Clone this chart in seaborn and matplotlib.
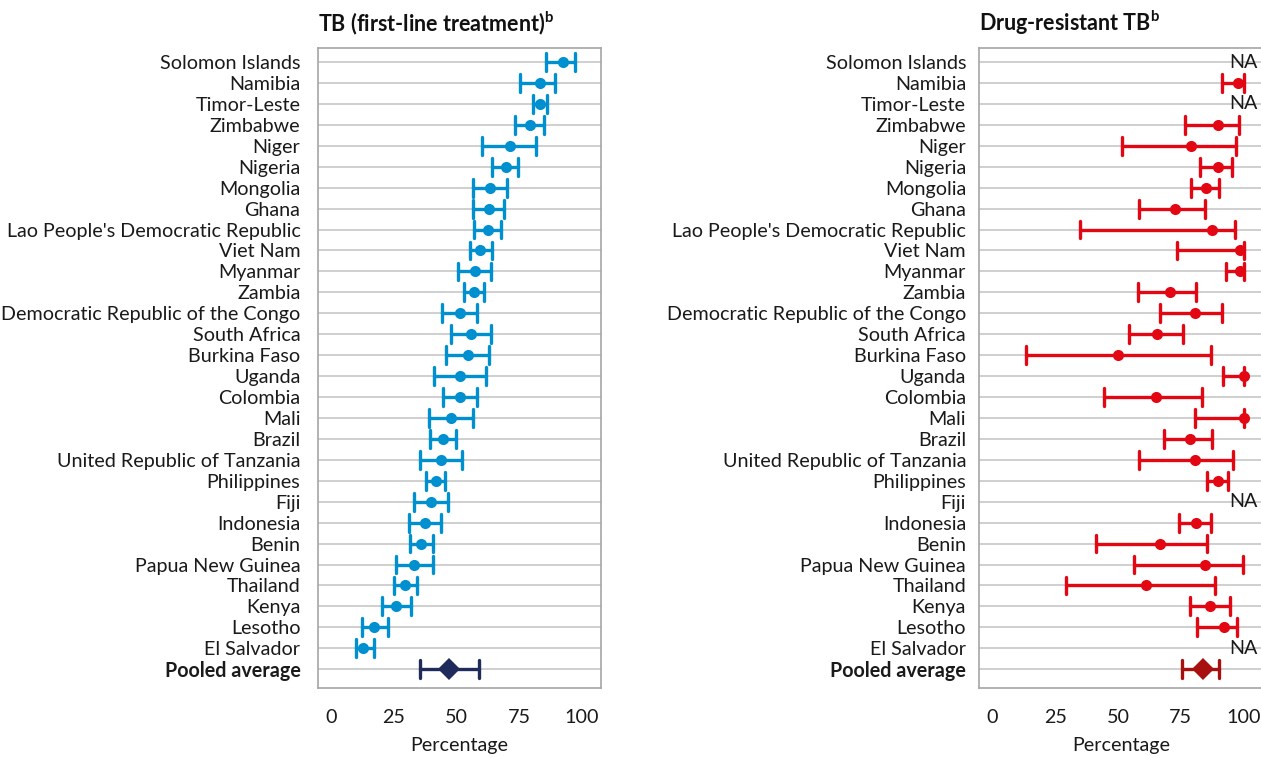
import numpy as np
import pandas as pd
import matplotlib
matplotlib.use("Agg")
import matplotlib.pyplot as plt
import seaborn as sns

# Countries, top to bottom
countries = ["Solomon Islands", "Namibia", "Timor-Leste", "Zimbabwe", "Niger", "Nigeria",
             "Mongolia", "Ghana", "Lao People's Democratic Republic", "Viet Nam", "Myanmar",
             "Zambia", "Democratic Republic of the Congo", "South Africa", "Burkina Faso",
             "Uganda", "Colombia", "Mali", "Brazil", "United Republic of Tanzania",
             "Philippines", "Fiji", "Indonesia", "Benin", "Papua New Guinea", "Thailand",
             "Kenya", "Lesotho", "El Salvador"]
pooled_label = "Pooled average"

# TB first-line treatment (%): estimate, lower, upper
fl_est = [92.3, 83.1, 83.1, 79.4, 71.3, 69.6, 63.4, 62.8, 62.4, 59.5, 57.3, 57.1, 51.5, 55.7,
          54.6, 51.6, 51.3, 48.0, 44.6, 43.9, 41.8, 39.7, 37.4, 35.8, 33.1, 29.5, 26.1, 17.3, 13.0]
fl_lo = [85.6, 75.5, 80.3, 73.4, 60.2, 64.2, 56.5, 56.5, 57.1, 55.3, 50.8, 53.2, 44.2, 47.8,
         46.0, 41.1, 44.7, 39.0, 39.4, 35.4, 37.8, 33.3, 31.0, 31.5, 26.1, 25.1, 20.4, 12.4, 10.1]
fl_hi = [97.2, 89.3, 86.0, 84.8, 81.6, 74.6, 70.2, 68.9, 67.6, 64.0, 63.9, 61.0, 58.3, 63.6,
         63.0, 61.7, 58.2, 56.6, 49.9, 52.2, 45.6, 46.8, 44.0, 40.7, 40.7, 34.4, 31.9, 22.9, 17.2]
fl_pooled = [47.2, 35.4, 58.9]

# Drug-resistant TB (%): None = NA
dr_est = [None, 97.7, None, 89.8, 79.2, 89.8, 85.2, 72.7, 87.4, 98.5, 98.5, 70.6, 80.5, 65.6,
          50.1, 100.0, 65.3, 100.0, 78.5, 80.5, 89.9, None, 80.9, 66.8, 84.6, 61.3, 86.6, 92.2, None]
dr_lo = [None, 91.4, None, 76.8, 51.7, 82.8, 79.0, 58.5, 34.9, 73.6, 93.1, 58.1, 66.8, 54.5,
         13.5, 91.9, 44.6, 80.8, 68.3, 58.5, 85.5, None, 74.3, 41.1, 56.4, 29.3, 78.6, 81.6, None]
dr_hi = [None, 100.0, None, 98.1, 97.1, 95.5, 90.4, 84.6, 96.6, 100.0, 100.0, 81.0, 91.4, 75.7,
         87.0, 100.0, 83.4, 100.0, 87.5, 95.8, 93.8, None, 87.0, 85.4, 99.7, 88.6, 94.6, 97.3, None]
dr_pooled = [83.7, 75.3, 90.4]

order = countries + [pooled_label]


def long_table(names, est, lo, hi):
    rows = []
    for n, e, l, h in zip(names, est, lo, hi):
        if e is None:
            continue
        for v in (l, e, h):
            rows.append({"country": n, "value": v})
    return pd.DataFrame(rows)


sns.set_style("white")
plt.rcParams["font.family"] = ["Lato", "DejaVu Sans"]
plt.rcParams["mathtext.fontset"] = "custom"
plt.rcParams["mathtext.bf"] = "Lato:bold"
plt.rcParams["mathtext.rm"] = "Lato"

fig = plt.figure(figsize=(12.61, 7.58), dpi=100)
ax1 = fig.add_axes([0.252, 0.0923, 0.2247, 0.8443])
ax2 = fig.add_axes([0.7766, 0.0923, 0.2247, 0.8443])

panels = [
    (ax1, fl_est, fl_lo, fl_hi, fl_pooled, "#0090d0", "#1f2b5b",
     "TB (first-line treatment)$^{\\mathbf{b}}$", 12.5),
    (ax2, dr_est, dr_lo, dr_hi, dr_pooled, "#e30613", "#a81010",
     "Drug-resistant TB$^{\\mathbf{b}}$", 9.5),
]

grey = "#a6a6a6"
ink = "#1a1a1a"
label_size = 14.2

for ax, est, lo, hi, pooled, col, pcol, title, ypad in panels:
    df = long_table(countries, est, lo, hi)
    dfp = long_table([pooled_label], [pooled[0]], [pooled[1]], [pooled[2]])

    sns.pointplot(data=df, x="value", y="country", order=order, estimator="median",
                  errorbar=("pi", 100), color=col, markers="o", linestyle="none",
                  markersize=8, markeredgewidth=0, capsize=0.85,
                  err_kws={"linewidth": 2.4}, ax=ax)
    sns.pointplot(data=dfp, x="value", y="country", order=order, estimator="median",
                  errorbar=("pi", 100), color=pcol, markers="D", linestyle="none",
                  markersize=11, markeredgewidth=0, capsize=0.85,
                  err_kws={"linewidth": 2.4}, ax=ax)

    # NA labels
    for i, e in enumerate(est):
        if e is None:
            ax.text(105.6, i, "NA", ha="right", va="center", fontsize=label_size, color=ink)

    ax.set_xlim(-5.2, 107.6)
    ax.set_ylim(29.9, -0.67)
    ax.set_xticks([0, 25, 50, 75, 100])
    ax.set_xlabel("Percentage", fontsize=label_size, labelpad=8, color=ink)
    ax.set_ylabel("")
    ax.grid(axis="y", color="#cccccc", linewidth=1.3)
    ax.grid(axis="x", visible=False)
    ax.set_axisbelow(True)
    for s in ax.spines.values():
        s.set_color(grey)
        s.set_linewidth(1.2)
        s.set_visible(True)
    ax.tick_params(axis="x", length=9, width=1.2, color=grey, labelsize=label_size,
                   labelcolor=ink, pad=6)
    ax.tick_params(axis="y", length=0, labelsize=label_size, labelcolor=ink, pad=ypad)
    for t in ax.get_yticklabels():
        if t.get_text() == pooled_label:
            t.set_fontweight("bold")
    ax.set_title(title, loc="left", fontsize=15.5, fontweight="bold", pad=12, color="#111111")

fig.savefig("out.png", dpi=100)
